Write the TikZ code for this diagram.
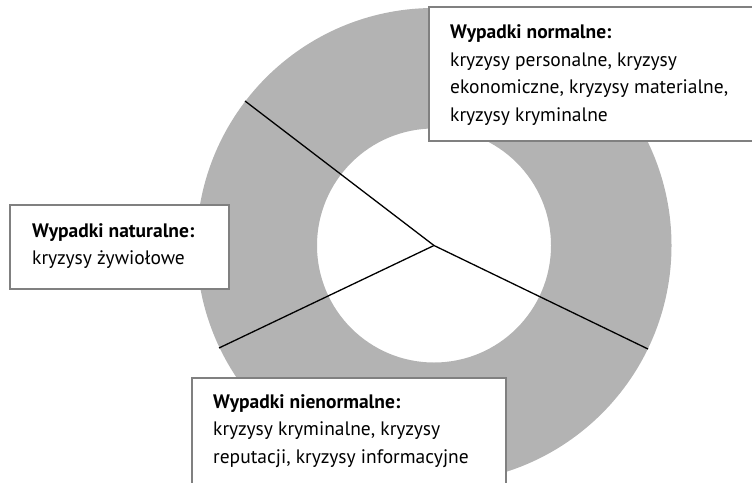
\documentclass[tikz,border=0pt]{standalone}
\usepackage{fontspec}
\setmainfont{PT Sans}
\definecolor{ringgray}{HTML}{B3B3B3}
\definecolor{boxgray}{HTML}{808080}
\begin{document}
\begin{tikzpicture}[x=1pt,y=-1pt,
  boxstyle/.style={draw=boxgray, line width=1.5pt, fill=white, anchor=north west, inner sep=0pt},
  txt/.style={anchor=north west, inner sep=0pt, align=left, font=\fontsize{19.5}{27.5}\selectfont},
  divider/.style={line width=1.3pt, draw=black}]
\useasboundingbox (0,0) rectangle (752,482);
\coordinate (c) at (434,245.5);
\fill[ringgray, even odd rule] (c) circle[radius=237.5] (c) circle[radius=117];
\coordinate (e1) at (245,101);
\coordinate (e2) at (219,348);
\coordinate (e3) at (648,349);
\draw[divider] (c) -- (e1);
\draw[divider] (c) -- (e2);
\draw[divider] (c) -- (e3);
\node[boxstyle, minimum width=340pt, minimum height=134pt] (b1) at (428,6) {};
\node[boxstyle, minimum width=219pt, minimum height=84pt] (b2) at (9,204) {};
\node[boxstyle, minimum width=314pt, minimum height=130pt] (b3) at (191,377) {};
\node[txt] (t1) at ([shift={(22,18.5)}]b1.north west) {\textbf{Wypadki normalne:}\\kryzysy personalne, kryzysy\\ekonomiczne, kryzysy materialne,\\kryzysy kryminalne};
\node[txt] (t2) at ([shift={(23,19)}]b2.north west) {\textbf{Wypadki naturalne:}\\kryzysy żywiołowe};
\node[txt] (t3) at ([shift={(22,17)}]b3.north west) {\textbf{Wypadki nienormalne:}\\kryzysy kryminalne, kryzysy\\reputacji, kryzysy informacyjne};
\end{tikzpicture}
\end{document}
